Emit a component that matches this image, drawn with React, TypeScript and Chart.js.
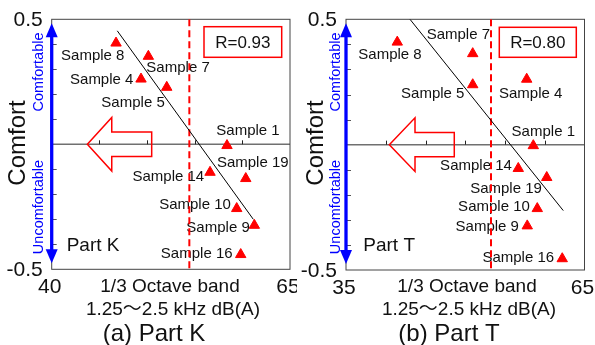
import React, { useEffect, useRef } from "react";
import { Chart, registerables } from "chart.js";
Chart.register(...registerables);

// ---------- data: panel (a) Part K ----------
const namesA = ["Sample 8", "Sample 7", "Sample 4", "Sample 5", "Sample 1", "Sample 14", "Sample 19", "Sample 10", "Sample 9", "Sample 16"];
const levelA = [46.75, 50.14, 49.37, 52.07, 58.39, 56.61, 60.36, 59.41, 61.26, 59.83];
const comfortA = [0.405, 0.352, 0.261, 0.228, -0.005, -0.112, -0.137, -0.257, -0.324, -0.441];
const fitXA = [46.88, 61.15];
const fitYA = [0.454, -0.3];
const thresholdA = 54.44;
const rLabelA = "R=0.93";
const xTickLabelsA = [40, 65];
const xMinorA = [45, 50, 55, 60];
const labelOffsetA = [[-23.3, 12.5], [29.7, 11.5], [-39.3, 0.8], [-33.7, 15.2], [21, -14.8], [-41.7, 4.2], [7, -15.5], [-41.7, -3.8], [-36.3, 2.5], [-44, -0.8]];

// ---------- data: panel (b) Part T ----------
const namesB = ["Sample 8", "Sample 7", "Sample 5", "Sample 4", "Sample 1", "Sample 14", "Sample 19", "Sample 10", "Sample 9", "Sample 16"];
const levelB = [41.45, 50.94, 50.94, 57.73, 58.56, 56.67, 60.25, 59.06, 57.8, 62.2];
const comfortB = [0.409, 0.363, 0.239, 0.261, -0.004, -0.095, -0.131, -0.255, -0.324, -0.455];
const fitXB = [43.05, 62.33];
const fitYB = [0.5, -0.263];
const thresholdB = 53.24;
const rLabelB = "R=0.80";
const xTickLabelsB = [35, 65];
const xMinorB = [40, 45, 50, 55, 60];
const labelOffsetB = [[-7.3, 12.8], [-14.4, -18.8], [-40, 9.5], [4, 15.1], [10, -13.8], [-42.3, -2.5], [-40.7, 11.8], [-43.3, -1.5], [-40, 0.5], [-44, -0.5]];

// shared
const yTickLabels = [0.5, -0.5];
const yMinor = [-0.4, -0.3, -0.2, -0.1, 0.1, 0.2, 0.3, 0.4];

const FONT = "'Liberation Sans', Arial, 'Noto Sans CJK JP', sans-serif";

type Cfg = any;

const panelA: Cfg = {
  key: "a",
  canvasLeft: 0,
  width: 297,
  padding: { left: 51.7, top: 19.3, right: 7, bottom: 75.7 },
  xMin: 40, xMax: 65,
  names: namesA, xs: levelA, ys: comfortA, offsets: labelOffsetA,
  fitX: fitXA, fitY: fitYA, threshold: thresholdA, rLabel: rLabelA,
  xTicks: xTickLabelsA, xMinor: xMinorA,
  arrow: { tip: 43.74, head: 46.3, end: 50.49, headH: 0.107, shaftH: 0.049 },
  box: { rightOff: 8.3, w: 77.7, topOff: 7.4, h: 30.6 },
  part: { text: "Part K", dx: 15, dy: -23.3 },
  title1X: 170, title2X: 173, captionX: 154, caption: "(a) Part K",
  comfortX: 18, sideX: 39.3,
};

const panelB: Cfg = {
  key: "b",
  canvasLeft: 297,
  width: 298,
  padding: { left: 49, top: 19.3, right: 10.5, bottom: 75 },
  xMin: 35, xMax: 65,
  names: namesB, xs: levelB, ys: comfortB, offsets: labelOffsetB,
  fitX: fitXB, fitY: fitYB, threshold: thresholdB, rLabel: rLabelB,
  xTicks: xTickLabelsB, xMinor: xMinorB,
  arrow: { tip: 40.45, head: 43.68, end: 48.62, headH: 0.107, shaftH: 0.048 },
  box: { rightOff: 8.2, w: 77, topOff: 8, h: 30 },
  part: { text: "Part T", dx: 17.3, dy: -24.3 },
  title1X: 170, title2X: 172, captionX: 152, caption: "(b) Part T",
  comfortX: 19.5, sideX: 38.8,
};

function makeDeco(cfg: Cfg) {
  const seg = (ctx: CanvasRenderingContext2D, x1: number, y1: number, x2: number, y2: number) => {
    ctx.beginPath();
    ctx.moveTo(x1, y1);
    ctx.lineTo(x2, y2);
    ctx.stroke();
  };
  return {
    id: "deco" + cfg.key,
    beforeDraw(chart: any) {
      const ctx = chart.ctx;
      ctx.save();
      ctx.fillStyle = "#ffffff";
      ctx.fillRect(0, 0, chart.width, chart.height);
      ctx.restore();
    },
    beforeDatasetsDraw(chart: any) {
      const { ctx, chartArea, scales } = chart;
      const { left, right, top, bottom } = chartArea;
      const sx = scales.x, sy = scales.y;
      ctx.save();
      // zero line
      const y0 = sy.getPixelForValue(0);
      ctx.strokeStyle = "#707070";
      ctx.lineWidth = 1.5;
      seg(ctx, left, y0, right, y0);
      // minor ticks on zero line
      ctx.strokeStyle = "#222";
      ctx.lineWidth = 1;
      cfg.xMinor.forEach((v: number) => {
        const px = Math.round(sx.getPixelForValue(v)) + 0.5;
        seg(ctx, px, y0 - 4, px, y0);
      });
      // left axis ticks
      ctx.strokeStyle = "#555";
      yMinor.forEach((v) => {
        const py = Math.round(sy.getPixelForValue(v)) + 0.5;
        seg(ctx, left, py, left + 5, py);
      });
      // frame
      ctx.strokeStyle = "#444";
      ctx.lineWidth = 1;
      ctx.strokeRect(left, top, right - left, bottom - top);
      // sample labels
      ctx.fillStyle = "#111";
      ctx.font = `15px ${FONT}`;
      ctx.textAlign = "center";
      ctx.textBaseline = "middle";
      cfg.names.forEach((n: string, i: number) => {
        const px = sx.getPixelForValue(cfg.xs[i]) + cfg.offsets[i][0];
        const py = sy.getPixelForValue(cfg.ys[i]) + cfg.offsets[i][1];
        ctx.fillText(n, px, py);
      });
      ctx.restore();
    },
    afterDatasetsDraw(chart: any) {
      const { ctx, chartArea, scales } = chart;
      const { left, right, top, bottom } = chartArea;
      const sx = scales.x, sy = scales.y;
      ctx.save();
      // red hollow arrow pointing left
      const a = cfg.arrow;
      const tipX = sx.getPixelForValue(a.tip);
      const headX = sx.getPixelForValue(a.head);
      const endX = sx.getPixelForValue(a.end);
      const yc = sy.getPixelForValue(0);
      const hh = sy.getPixelForValue(0) - sy.getPixelForValue(a.headH);
      const sh = sy.getPixelForValue(0) - sy.getPixelForValue(a.shaftH);
      ctx.strokeStyle = "#ff0000";
      ctx.lineWidth = 1.5;
      ctx.lineJoin = "miter";
      ctx.beginPath();
      ctx.moveTo(tipX, yc);
      ctx.lineTo(headX, yc - hh);
      ctx.lineTo(headX, yc - sh);
      ctx.lineTo(endX, yc - sh);
      ctx.lineTo(endX, yc + sh);
      ctx.lineTo(headX, yc + sh);
      ctx.lineTo(headX, yc + hh);
      ctx.closePath();
      ctx.stroke();
      // R box
      const b = cfg.box;
      const bx = right - b.rightOff - b.w;
      const by = top + b.topOff;
      ctx.fillStyle = "#ffffff";
      ctx.fillRect(bx, by, b.w, b.h);
      ctx.strokeStyle = "#ff0000";
      ctx.lineWidth = 1.5;
      ctx.strokeRect(bx, by, b.w, b.h);
      ctx.fillStyle = "#111";
      ctx.font = `17px ${FONT}`;
      ctx.textAlign = "center";
      ctx.textBaseline = "middle";
      ctx.fillText(cfg.rLabel, bx + b.w / 2, by + b.h / 2 + 1);
      // Part text
      ctx.font = `19px ${FONT}`;
      ctx.textAlign = "left";
      ctx.fillText(cfg.part.text, left + cfg.part.dx, bottom + cfg.part.dy);
      // blue double arrow on left axis
      ctx.strokeStyle = "#0000ff";
      ctx.fillStyle = "#0000ff";
      ctx.lineWidth = 3.3;
      const tTop = top + 4, tBot = bottom - 6, hl = 14, hw = 6;
      seg(ctx, left, tTop + hl - 1, left, tBot - hl + 1);
      ctx.beginPath();
      ctx.moveTo(left, tTop);
      ctx.lineTo(left - hw, tTop + hl);
      ctx.lineTo(left + hw, tTop + hl);
      ctx.closePath();
      ctx.fill();
      ctx.beginPath();
      ctx.moveTo(left, tBot);
      ctx.lineTo(left - hw, tBot - hl);
      ctx.lineTo(left + hw, tBot - hl);
      ctx.closePath();
      ctx.fill();
      // axis end labels
      ctx.fillStyle = "#111";
      ctx.font = `21px ${FONT}`;
      ctx.textAlign = "right";
      yTickLabels.forEach((v) => {
        ctx.fillText(String(v), left - 9, sy.getPixelForValue(v) + 1);
      });
      ctx.textAlign = "center";
      cfg.xTicks.forEach((v: number) => {
        ctx.fillText(String(v), sx.getPixelForValue(v) - 2, bottom + 18);
      });
      // axis title
      ctx.font = `19px ${FONT}`;
      ctx.fillText("1/3 Octave band", cfg.title1X, 287);
      ctx.fillText("1.25～2.5 kHz dB(A)", cfg.title2X, 310);
      ctx.font = `24px ${FONT}`;
      ctx.fillText(cfg.caption, cfg.captionX, 334);
      // rotated texts
      const rot = (text: string, x: number, y: number, font: string, color: string) => {
        ctx.save();
        ctx.translate(x, y);
        ctx.rotate(-Math.PI / 2);
        ctx.font = font;
        ctx.fillStyle = color;
        ctx.textAlign = "center";
        ctx.textBaseline = "middle";
        ctx.fillText(text, 0, 0);
        ctx.restore();
      };
      rot("Comfort", cfg.comfortX, 143, `24px ${FONT}`, "#111");
      rot("Comfortable", cfg.sideX, 72, `14.5px ${FONT}`, "#0000ff");
      rot("Uncomfortable", cfg.sideX, 207, `14.5px ${FONT}`, "#0000ff");
      ctx.restore();
    },
  };
}

function Panel({ cfg }: { cfg: Cfg }) {
  const ref = useRef<HTMLCanvasElement | null>(null);
  useEffect(() => {
    if (!ref.current) return;
    const chart = new Chart(ref.current, {
      type: "scatter",
      data: {
        datasets: [
          {
            data: cfg.xs.map((x: number, i: number) => ({ x, y: cfg.ys[i] })),
            pointStyle: "triangle",
            pointRadius: 6,
            borderWidth: 1,
            backgroundColor: "#ff0000",
            borderColor: "#ff0000",
          } as any,
          {
            type: "line",
            data: cfg.fitX.map((x: number, i: number) => ({ x, y: cfg.fitY[i] })),
            borderColor: "#000000",
            borderWidth: 1,
            pointRadius: 0,
            fill: false,
          } as any,
          {
            type: "line",
            data: [
              { x: cfg.threshold, y: 0.5 },
              { x: cfg.threshold, y: -0.5 },
            ],
            borderColor: "#ff0000",
            borderWidth: 2,
            borderDash: [7, 4],
            pointRadius: 0,
            fill: false,
          } as any,
        ],
      },
      options: {
        animation: false,
        responsive: false,
        maintainAspectRatio: false,
        events: [],
        layout: { padding: cfg.padding },
        scales: {
          x: { type: "linear", min: cfg.xMin, max: cfg.xMax, display: false },
          y: { type: "linear", min: -0.5, max: 0.5, display: false },
        },
        plugins: { legend: { display: false }, tooltip: { enabled: false } },
      } as any,
      plugins: [makeDeco(cfg)],
    });
    return () => chart.destroy();
  }, [cfg]);
  return (
    <canvas
      ref={ref}
      width={cfg.width}
      height={345}
      style={{ position: "absolute", left: cfg.canvasLeft, top: 0, width: cfg.width, height: 345 }}
    />
  );
}

export default function App() {
  return (
    <div style={{ position: "fixed", left: 0, top: 0, width: 595, height: 345, background: "#ffffff" }}>
      <Panel cfg={panelA} />
      <Panel cfg={panelB} />
    </div>
  );
}
